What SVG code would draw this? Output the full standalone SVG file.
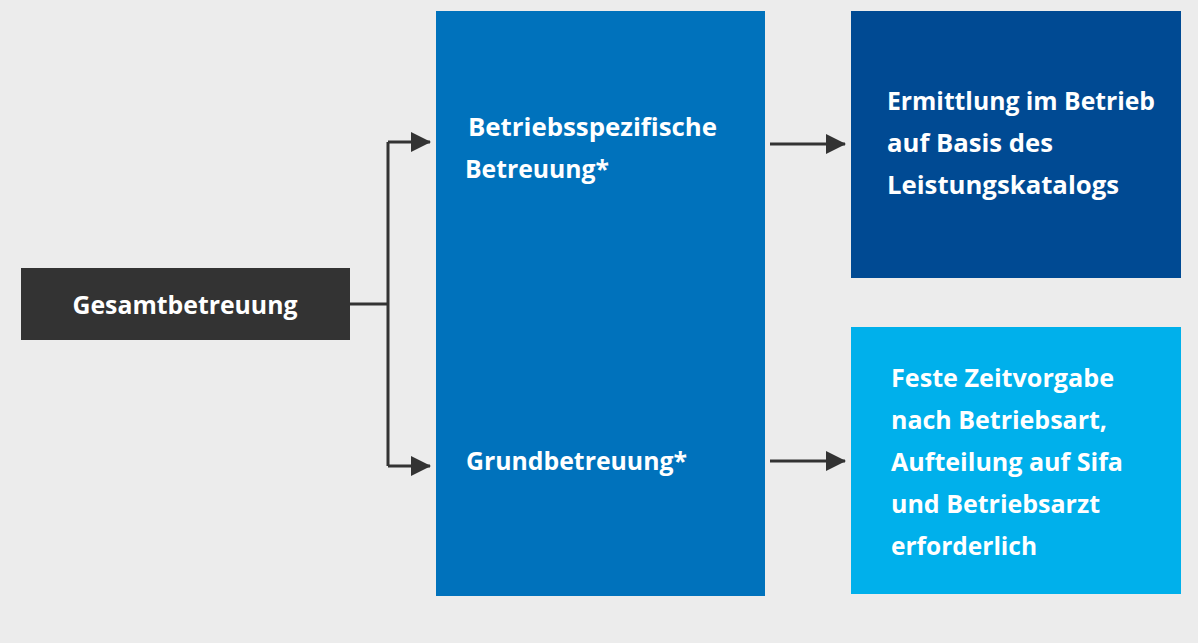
<svg xmlns="http://www.w3.org/2000/svg" width="1198" height="643" viewBox="0 0 1198 643">
<style>
.t{font-family:"Open Sans","Liberation Sans",sans-serif;font-weight:700;font-size:25px;fill:#fff}
.c{stroke:#333;stroke-width:3;fill:none}
</style>
<defs>
<marker id="ah" markerWidth="20" markerHeight="20" refX="19" refY="10" orient="auto" markerUnits="userSpaceOnUse">
<path d="M0,0 L20,10 L0,20 Z" fill="#333"/>
</marker>
</defs>
<rect width="1198" height="643" fill="#ececec"/>
<g id="gesamt">
<rect x="21" y="268" width="329" height="72" fill="#333"/>
<text class="t" x="185" y="314" text-anchor="middle" textLength="225" lengthAdjust="spacingAndGlyphs">Gesamtbetreuung</text>
</g>
<g id="betreuung">
<rect x="436" y="11" width="329" height="585" fill="#0072bc"/>
<text class="t" x="468" y="136" textLength="249" lengthAdjust="spacingAndGlyphs">Betriebsspezifische</text>
<text class="t" x="465" y="178" textLength="144" lengthAdjust="spacingAndGlyphs">Betreuung*</text>
<text class="t" x="466" y="470" textLength="221" lengthAdjust="spacingAndGlyphs">Grundbetreuung*</text>
</g>
<g id="ermittlung">
<rect x="851" y="11" width="330" height="267" fill="#004a93"/>
<text class="t" x="887" y="110" textLength="268" lengthAdjust="spacingAndGlyphs">Ermittlung im Betrieb</text>
<text class="t" x="887" y="152" textLength="166" lengthAdjust="spacingAndGlyphs">auf Basis des</text>
<text class="t" x="887" y="194" textLength="232" lengthAdjust="spacingAndGlyphs">Leistungskatalogs</text>
</g>
<g id="feste">
<rect x="851" y="327" width="330" height="267" fill="#00b0eb"/>
<text class="t" x="891" y="387" textLength="223" lengthAdjust="spacingAndGlyphs">Feste Zeitvorgabe</text>
<text class="t" x="891" y="429" textLength="216" lengthAdjust="spacingAndGlyphs">nach Betriebsart,</text>
<text class="t" x="891" y="471" textLength="232" lengthAdjust="spacingAndGlyphs">Aufteilung auf Sifa</text>
<text class="t" x="891" y="513" textLength="209" lengthAdjust="spacingAndGlyphs">und Betriebsarzt</text>
<text class="t" x="891" y="555" textLength="146" lengthAdjust="spacingAndGlyphs">erforderlich</text>
</g>
<g id="connectors">
<path class="c" d="M350,304 H388"/>
<path class="c" d="M388,142 V466"/>
<path class="c" d="M388,142 H430" marker-end="url(#ah)"/>
<path class="c" d="M388,466 H430" marker-end="url(#ah)"/>
<path class="c" d="M770,144 H845" marker-end="url(#ah)"/>
<path class="c" d="M770,461 H845" marker-end="url(#ah)"/>
</g>
</svg>
